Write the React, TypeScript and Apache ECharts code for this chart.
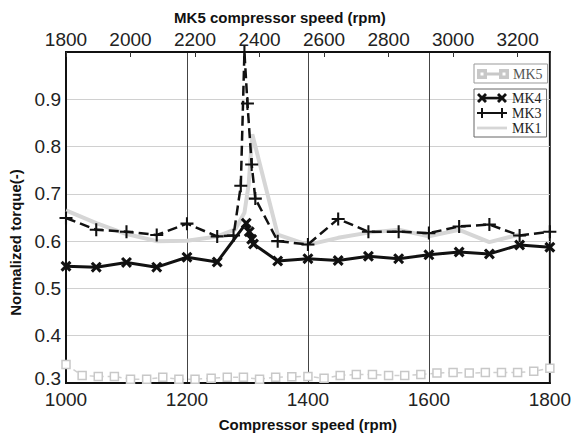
import React, { useEffect, useRef } from "react";
import * as echarts from "echarts";

// Bottom axis speeds (rpm) and torques
const mk4Speed = [1000, 1050, 1100, 1150, 1200, 1250, 1298, 1303, 1307, 1310, 1350, 1400, 1450, 1500, 1550, 1600, 1650, 1700, 1750, 1800];
const mk4Torque = [0.547, 0.545, 0.555, 0.545, 0.566, 0.556, 0.638, 0.620, 0.604, 0.594, 0.558, 0.563, 0.559, 0.568, 0.563, 0.571, 0.577, 0.573, 0.592, 0.587];

const mk3Speed = [1000, 1050, 1100, 1150, 1200, 1250, 1277, 1289, 1295, 1300, 1307, 1313, 1350, 1400, 1450, 1500, 1550, 1600, 1650, 1700, 1750, 1800];
const mk3Torque = [0.649, 0.624, 0.620, 0.613, 0.637, 0.610, 0.612, 0.717, 1.0, 0.891, 0.762, 0.690, 0.600, 0.593, 0.647, 0.620, 0.620, 0.617, 0.631, 0.635, 0.612, 0.620];

const mk1Speed = [1000, 1050, 1100, 1150, 1200, 1250, 1280, 1295, 1302, 1308, 1350, 1400, 1450, 1500, 1550, 1600, 1650, 1700, 1750];
const mk1Torque = [0.665, 0.638, 0.615, 0.600, 0.601, 0.610, 0.625, 0.660, 0.720, 0.826, 0.614, 0.592, 0.607, 0.618, 0.624, 0.610, 0.624, 0.598, 0.614];

// MK5 speeds are on the top axis (1800..3300 step 50)
const mk5Speed = [1800, 1850, 1900, 1950, 2000, 2050, 2100, 2150, 2200, 2250, 2300, 2350, 2400, 2450, 2500, 2550, 2600, 2650, 2700, 2750, 2800, 2850, 2900, 2950, 3000, 3050, 3100, 3150, 3200, 3250, 3300];
const mk5Torque = [0.339, 0.316, 0.314, 0.314, 0.308, 0.308, 0.312, 0.308, 0.308, 0.310, 0.312, 0.312, 0.308, 0.312, 0.313, 0.314, 0.310, 0.316, 0.318, 0.318, 0.316, 0.316, 0.318, 0.321, 0.322, 0.321, 0.322, 0.322, 0.322, 0.325, 0.331];

const seriesNames = ["MK5", "MK4", "MK3", "MK1"];

const pair = (xs: number[], ys: number[]) => xs.map((x, i) => [x, ys[i]]);

const X_SYMBOL = "path://M0,2 L2,0 L5,3 L8,0 L10,2 L7,5 L10,8 L8,10 L5,7 L2,10 L0,8 L3,5 Z";
const PLUS_SYMBOL = "path://M4.2,0 H5.8 V4.2 H10 V5.8 H5.8 V10 H4.2 V5.8 H0 V4.2 H4.2 Z";

const ICON_MK5 = "path://M0,1 H8 V9 H0 Z M1.5,2.5 V7.5 H6.5 V2.5 Z M8,4.4 H22 V5.6 H8 Z M22,1 H30 V9 H22 Z M23.5,2.5 V7.5 H28.5 V2.5 Z";
const ICON_MK4 = "path://M0,2 L2,0 L5,3 L8,0 L10,2 L7,5 L10,8 L8,10 L5,7 L2,10 L0,8 L3,5 Z M5,3.8 H25 V6.2 H5 Z M20,2 L22,0 L25,3 L28,0 L30,2 L27,5 L30,8 L28,10 L25,7 L22,10 L20,8 L23,5 Z";
const ICON_MK3 = "path://M4,0 H6 V4 H24 V0 H26 V4 H30 V6 H26 V10 H24 V6 H6 V10 H4 V6 H0 V4 H4 Z";
const ICON_MK1 = "path://M0,3.6 H30 V6.4 H0 Z";

export default function App() {
  const ref = useRef<HTMLDivElement>(null);
  useEffect(() => {
    if (!ref.current) return;
    const chart = echarts.init(ref.current, undefined, { renderer: "svg" });
    const font = "Liberation Sans, Arial, sans-serif";
    const legendText = { fontFamily: "Liberation Serif, serif", fontSize: 14, lineHeight: 14 };
    chart.setOption({
      animation: false,
      backgroundColor: "#fff",
      grid: { left: 66, right: 22, top: 52, bottom: 44, show: true, borderColor: "#111", borderWidth: 2 },
      legend: [
        {
          data: [{ name: seriesNames[0], icon: ICON_MK5, itemStyle: { color: "#c8c8c8" } }],
          left: 474,
          top: 64,
          orient: "vertical",
          itemWidth: 30,
          itemHeight: 10,
          padding: [3, 5, 2, 3],
          borderColor: "#999",
          borderWidth: 1,
          textStyle: { ...legendText, color: "#555" },
        },
        {
          data: [
            { name: seriesNames[1], icon: ICON_MK4 },
            { name: seriesNames[2], icon: ICON_MK3 },
            { name: seriesNames[3], icon: ICON_MK1 },
          ],
          left: 474,
          top: 89,
          orient: "vertical",
          itemGap: 1,
          itemWidth: 30,
          itemHeight: 10,
          padding: [2, 5, 2, 3],
          borderColor: "#666",
          borderWidth: 1,
          textStyle: { ...legendText, color: "#222" },
        },
      ],
      xAxis: [
        {
          type: "value",
          position: "bottom",
          min: 1000,
          max: 1800,
          interval: 200,
          name: "Compressor speed (rpm)",
          nameLocation: "middle",
          nameGap: 34,
          nameTextStyle: { fontFamily: font, fontWeight: "bold", fontSize: 15, color: "#111" },
          axisLine: { show: true, lineStyle: { color: "#111", width: 2 } },
          axisTick: { show: false },
          axisLabel: { fontFamily: font, fontSize: 19, color: "#222", margin: 7, formatter: (v: number) => String(v) },
          splitLine: { show: true, lineStyle: { color: "#444", width: 1 } },
        },
        {
          type: "value",
          position: "top",
          min: 1800,
          max: 3300,
          interval: 200,
          name: "MK5 compressor speed (rpm)",
          nameLocation: "middle",
          nameGap: 26,
          nameTextStyle: { fontFamily: font, fontWeight: "bold", fontSize: 15, color: "#111", padding: [0, 56, 0, 0] },
          axisLine: { show: true, lineStyle: { color: "#111", width: 2 } },
          axisTick: { show: true, inside: true, length: 5, lineStyle: { color: "#333", width: 1 } },
          axisLabel: { fontFamily: font, fontSize: 19, color: "#222", margin: 3, showMaxLabel: false, formatter: (v: number) => String(v) },
          splitLine: { show: false },
        },
      ],
      yAxis: {
        type: "value",
        min: 0.3,
        max: 1.0,
        interval: 0.1,
        name: "Normalized torque(-)",
        nameLocation: "middle",
        nameGap: 43,
        nameTextStyle: { fontFamily: font, fontWeight: "bold", fontSize: 15, color: "#111", padding: [0, 50, 0, 0] },
        axisLine: { show: true, lineStyle: { color: "#111", width: 2 } },
        axisTick: { show: false },
        axisLabel: {
          fontFamily: font,
          fontSize: 19,
          color: "#222",
          margin: 5,
          formatter: (v: number) => (v > 0.95 ? "" : v < 0.35 ? "{lo|" + v.toFixed(1) + "}" : v.toFixed(1)),
          rich: {
            lo: { fontFamily: font, fontSize: 19, color: "#222", lineHeight: 16, padding: [0, 0, 10, 0] },
          },
        },
        splitLine: { show: true, lineStyle: { color: "#d0d0d0", width: 1 } },
      },
      series: [
        {
          name: seriesNames[3],
          type: "line",
          xAxisIndex: 0,
          data: pair(mk1Speed, mk1Torque),
          showSymbol: false,
          symbol: "none",
          lineStyle: { color: "#d6d6d6", width: 4 },
          itemStyle: { color: "#d6d6d6" },
          z: 2,
        },
        {
          name: seriesNames[2],
          type: "line",
          xAxisIndex: 0,
          data: pair(mk3Speed, mk3Torque),
          symbol: PLUS_SYMBOL,
          symbolSize: 13,
          lineStyle: { color: "#111", width: 2.5, type: [10, 5] },
          itemStyle: { color: "#111" },
          z: 3,
        },
        {
          name: seriesNames[1],
          type: "line",
          xAxisIndex: 0,
          data: pair(mk4Speed, mk4Torque),
          symbol: X_SYMBOL,
          symbolSize: 11,
          lineStyle: { color: "#111", width: 3 },
          itemStyle: { color: "#111" },
          z: 4,
        },
        {
          name: seriesNames[0],
          type: "line",
          xAxisIndex: 1,
          data: pair(mk5Speed, mk5Torque),
          symbol: "rect",
          symbolSize: 8,
          lineStyle: { color: "#cfcfcf", width: 1.5, type: [5, 4] },
          itemStyle: { color: "#fff", borderColor: "#c8c8c8", borderWidth: 1.5 },
          z: 3,
        },
      ],
    });
    return () => chart.dispose();
  }, []);
  return <div ref={ref} style={{ width: 574, height: 437, position: "absolute", left: 0, top: 0 }} />;
}
